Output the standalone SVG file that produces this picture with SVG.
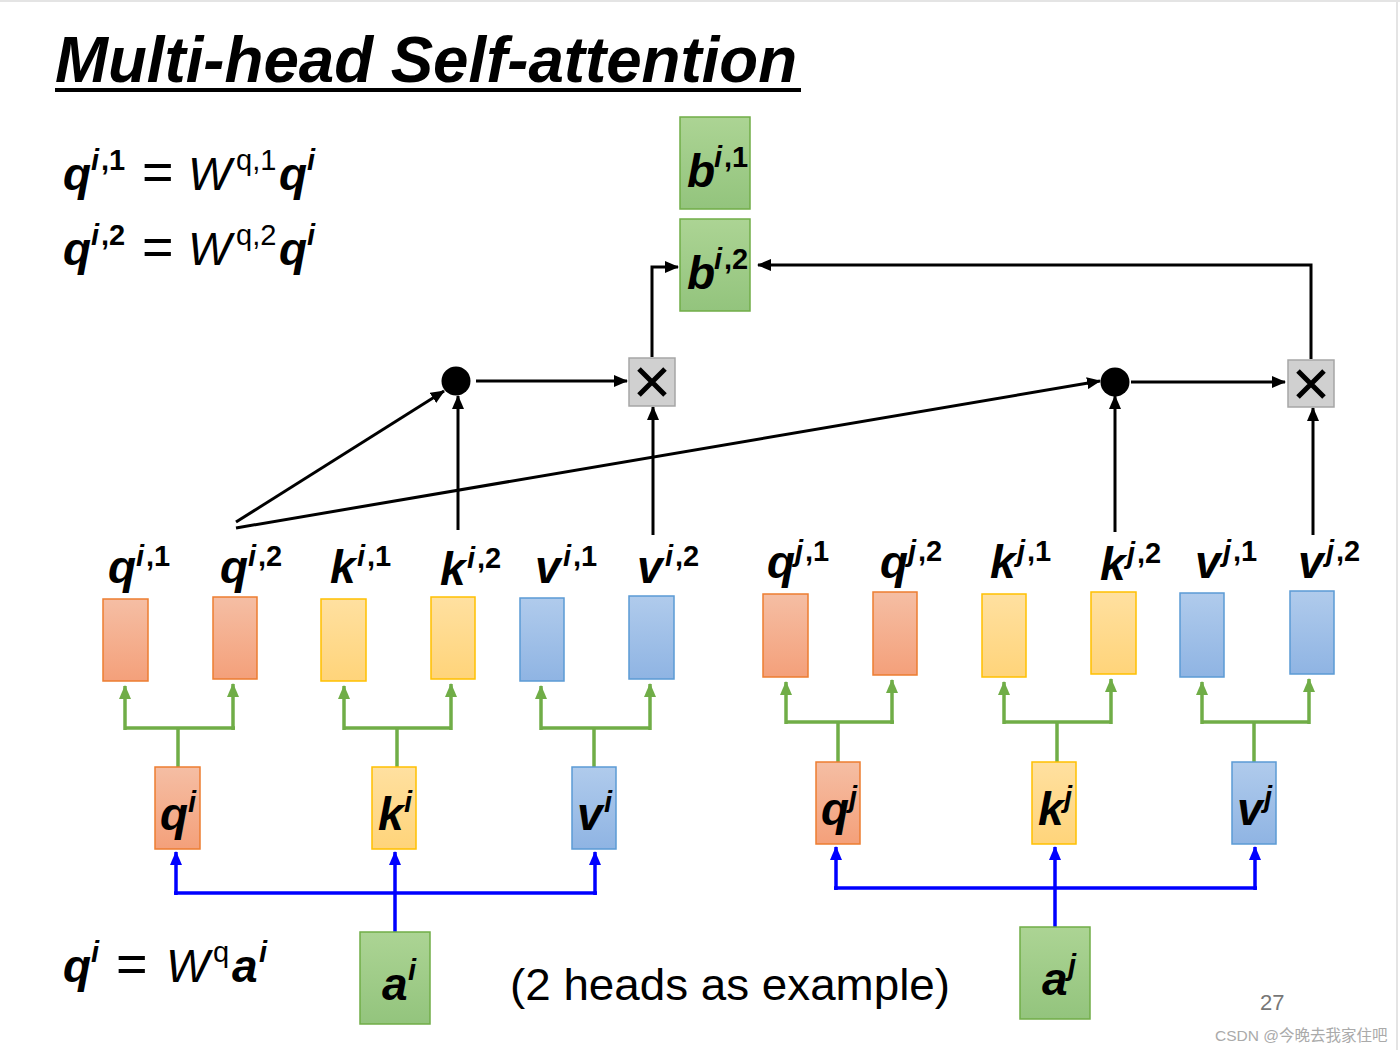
<svg xmlns="http://www.w3.org/2000/svg" width="1400" height="1050" viewBox="0 0 1400 1050">
<defs>
<style>
.m{font-family:"Liberation Sans",Arial,sans-serif;font-weight:bold;font-style:italic;font-size:46px;fill:#000}
.s{font-size:29px}
.u{font-style:normal}
.r{font-weight:normal;font-style:normal}
.eq{font-size:54px}
.w{font-weight:normal;font-style:italic}
.blk{stroke:#000;stroke-width:3;fill:none}
.blu{stroke:#0000ff;stroke-width:3.5;fill:none}
.grn{stroke:#70ad47;stroke-width:3.5;fill:none}
.qb{fill:url(#gO);stroke:#ed7d31;stroke-width:1.5}
.kb{fill:url(#gY);stroke:#ffc000;stroke-width:1.5}
.vb{fill:url(#gB);stroke:#5b9bd5;stroke-width:1.5}
.ab{fill:url(#gG);stroke:#70ad47;stroke-width:1.5}
.xb{fill:#d0d0d0;stroke:#a6a6a6;stroke-width:1.5}
</style>
<linearGradient id="gO" x1="0" y1="0" x2="0" y2="1"><stop offset="0" stop-color="#f5bea4"/><stop offset="1" stop-color="#f4a07a"/></linearGradient>
<linearGradient id="gY" x1="0" y1="0" x2="0" y2="1"><stop offset="0" stop-color="#ffe0a0"/><stop offset="1" stop-color="#ffd47a"/></linearGradient>
<linearGradient id="gB" x1="0" y1="0" x2="0" y2="1"><stop offset="0" stop-color="#b0cbec"/><stop offset="1" stop-color="#8fb4e3"/></linearGradient>
<linearGradient id="gG" x1="0" y1="0" x2="0" y2="1"><stop offset="0" stop-color="#acd494"/><stop offset="1" stop-color="#93c47d"/></linearGradient>
<marker id="aK" markerUnits="userSpaceOnUse" viewBox="0 0 14 12" refX="13" refY="6" markerWidth="14" markerHeight="12" orient="auto"><path d="M0,0 L14,6 L0,12 z" fill="#000"/></marker>
<marker id="aB" markerUnits="userSpaceOnUse" viewBox="0 0 14 12" refX="13" refY="6" markerWidth="14" markerHeight="12" orient="auto"><path d="M0,0 L14,6 L0,12 z" fill="#0000ff"/></marker>
<marker id="aG" markerUnits="userSpaceOnUse" viewBox="0 0 14 12" refX="13" refY="6" markerWidth="14" markerHeight="12" orient="auto"><path d="M0,0 L14,6 L0,12 z" fill="#70ad47"/></marker>
</defs>
<rect width="1400" height="1050" fill="#fff"/>
<line x1="0" y1="1" x2="1400" y2="1" stroke="#e4e4e4" stroke-width="2"/>
<line x1="1397" y1="0" x2="1397" y2="1050" stroke="#e4e4e4" stroke-width="2"/>

<g id="title">
<text x="55" y="82" font-family="Liberation Sans,Arial,sans-serif" font-weight="bold" font-style="italic" font-size="64" textLength="742" lengthAdjust="spacingAndGlyphs">Multi-head Self-attention</text>
<rect x="55" y="88" width="746" height="4" fill="#000"/>
</g>

<g id="equations">
<text class="m" y="190"><tspan x="63">q</tspan><tspan class="s" x="91" dy="-20">i</tspan><tspan class="s u" x="101">,1</tspan><tspan class="r eq" x="142" dy="20">=</tspan><tspan class="w" x="188">W</tspan><tspan class="s r" x="236" dy="-20">q,1</tspan><tspan x="279" dy="20">q</tspan><tspan class="s" x="307" dy="-20">i</tspan></text>
<text class="m" y="265"><tspan x="63">q</tspan><tspan class="s" x="91" dy="-20">i</tspan><tspan class="s u" x="101">,2</tspan><tspan class="r eq" x="142" dy="20">=</tspan><tspan class="w" x="188">W</tspan><tspan class="s r" x="236" dy="-20">q,2</tspan><tspan x="279" dy="20">q</tspan><tspan class="s" x="307" dy="-20">i</tspan></text>
<text class="m" y="982"><tspan x="63">q</tspan><tspan class="s" x="91" dy="-20">i</tspan><tspan class="r eq" x="116" dy="20">=</tspan><tspan class="w" x="166">W</tspan><tspan class="s r" x="213" dy="-20">q</tspan><tspan x="232" dy="20">a</tspan><tspan class="s" x="259" dy="-20">i</tspan></text>
</g>

<g id="connectors">
<path class="blk" d="M652,357 V267 H678" marker-end="url(#aK)"/>
<path class="blk" d="M1311,359 V265 H758" marker-end="url(#aK)"/>
<line class="blk" x1="476" y1="381" x2="627" y2="381" marker-end="url(#aK)"/>
<line class="blk" x1="1131" y1="382" x2="1285" y2="382" marker-end="url(#aK)"/>
<line class="blk" x1="236" y1="522" x2="444" y2="391" marker-end="url(#aK)"/>
<line class="blk" x1="236" y1="528" x2="1100" y2="381" marker-end="url(#aK)"/>
<line class="blk" x1="458" y1="530" x2="458" y2="396" marker-end="url(#aK)"/>
<line class="blk" x1="653" y1="535" x2="653" y2="407" marker-end="url(#aK)"/>
<line class="blk" x1="1115" y1="532" x2="1115" y2="396" marker-end="url(#aK)"/>
<line class="blk" x1="1313" y1="535" x2="1313" y2="408" marker-end="url(#aK)"/>
<path class="grn" d="M178,767 V728 M125,728 H235"/>
<line class="grn" x1="125" y1="730" x2="125" y2="686" marker-end="url(#aG)"/>
<line class="grn" x1="233" y1="730" x2="233" y2="684" marker-end="url(#aG)"/>
<path class="grn" d="M397,767 V728 M344,728 H452"/>
<line class="grn" x1="344" y1="730" x2="344" y2="686" marker-end="url(#aG)"/>
<line class="grn" x1="451" y1="730" x2="451" y2="684" marker-end="url(#aG)"/>
<path class="grn" d="M594,767 V728 M541,728 H651"/>
<line class="grn" x1="541" y1="730" x2="541" y2="686" marker-end="url(#aG)"/>
<line class="grn" x1="650" y1="730" x2="650" y2="684" marker-end="url(#aG)"/>
<path class="grn" d="M838,762 V722 M786,722 H894"/>
<line class="grn" x1="786" y1="724" x2="786" y2="682" marker-end="url(#aG)"/>
<line class="grn" x1="892" y1="724" x2="892" y2="680" marker-end="url(#aG)"/>
<path class="grn" d="M1057,762 V722 M1004,722 H1112"/>
<line class="grn" x1="1004" y1="724" x2="1004" y2="682" marker-end="url(#aG)"/>
<line class="grn" x1="1111" y1="724" x2="1111" y2="679" marker-end="url(#aG)"/>
<path class="grn" d="M1254,762 V722 M1202,722 H1310"/>
<line class="grn" x1="1202" y1="724" x2="1202" y2="682" marker-end="url(#aG)"/>
<line class="grn" x1="1309" y1="724" x2="1309" y2="679" marker-end="url(#aG)"/>
<path class="blu" d="M174,893 H597"/>
<line class="blu" x1="395" y1="932" x2="395" y2="852" marker-end="url(#aB)"/>
<line class="blu" x1="176" y1="895" x2="176" y2="852" marker-end="url(#aB)"/>
<line class="blu" x1="595" y1="895" x2="595" y2="852" marker-end="url(#aB)"/>
<path class="blu" d="M834,888 H1257"/>
<line class="blu" x1="1055" y1="927" x2="1055" y2="847" marker-end="url(#aB)"/>
<line class="blu" x1="836" y1="890" x2="836" y2="847" marker-end="url(#aB)"/>
<line class="blu" x1="1255" y1="890" x2="1255" y2="847" marker-end="url(#aB)"/>
</g>

<g id="dot1"><circle cx="456" cy="381" r="14.5" fill="#000"/></g>
<g id="dot2"><circle cx="1115" cy="382" r="14.5" fill="#000"/></g>
<g id="mul1"><rect class="xb" x="629" y="358" width="46" height="48"/><path d="M639,369 L665,395 M665,369 L639,395" stroke="#000" stroke-width="5"/></g>
<g id="mul2"><rect class="xb" x="1288" y="360" width="46" height="47"/><path d="M1298,371 L1324,397 M1324,371 L1298,397" stroke="#000" stroke-width="5"/></g>

<g id="b1"><rect class="ab" x="680" y="117" width="70" height="92"/><text class="m" y="187"><tspan x="687">b</tspan><tspan class="s" x="714" dy="-20">i</tspan><tspan class="s u" x="724">,1</tspan></text></g>
<g id="b2"><rect class="ab" x="680" y="219" width="70" height="92"/><text class="m" y="289"><tspan x="687">b</tspan><tspan class="s" x="714" dy="-20">i</tspan><tspan class="s u" x="724">,2</tspan></text></g>

<g id="qi1"><rect class="qb" x="103" y="599" width="45" height="82"/><text class="m" y="583"><tspan x="108">q</tspan><tspan class="s" x="136" dy="-17">i</tspan><tspan class="s u" x="146">,1</tspan></text></g>
<g id="qi2"><rect class="qb" x="213" y="597" width="44" height="82"/><text class="m" y="583"><tspan x="220">q</tspan><tspan class="s" x="248" dy="-17">i</tspan><tspan class="s u" x="258">,2</tspan></text></g>
<g id="ki1"><rect class="kb" x="321" y="599" width="45" height="82"/><text class="m" y="583"><tspan x="330">k</tspan><tspan class="s" x="357" dy="-17">i</tspan><tspan class="s u" x="367">,1</tspan></text></g>
<g id="ki2"><rect class="kb" x="431" y="597" width="44" height="82"/><text class="m" y="585"><tspan x="440">k</tspan><tspan class="s" x="467" dy="-17">i</tspan><tspan class="s u" x="477">,2</tspan></text></g>
<g id="vi1"><rect class="vb" x="520" y="598" width="44" height="83"/><text class="m" y="583"><tspan x="535">v</tspan><tspan class="s" x="563" dy="-17">i</tspan><tspan class="s u" x="573">,1</tspan></text></g>
<g id="vi2"><rect class="vb" x="629" y="596" width="45" height="83"/><text class="m" y="583"><tspan x="637">v</tspan><tspan class="s" x="665" dy="-17">i</tspan><tspan class="s u" x="675">,2</tspan></text></g>
<g id="qj1"><rect class="qb" x="763" y="594" width="45" height="83"/><text class="m" y="578"><tspan x="767">q</tspan><tspan class="s" x="795" dy="-17">j</tspan><tspan class="s u" x="805">,1</tspan></text></g>
<g id="qj2"><rect class="qb" x="873" y="592" width="44" height="83"/><text class="m" y="578"><tspan x="880">q</tspan><tspan class="s" x="908" dy="-17">j</tspan><tspan class="s u" x="918">,2</tspan></text></g>
<g id="kj1"><rect class="kb" x="982" y="594" width="44" height="83"/><text class="m" y="578"><tspan x="990">k</tspan><tspan class="s" x="1017" dy="-17">j</tspan><tspan class="s u" x="1027">,1</tspan></text></g>
<g id="kj2"><rect class="kb" x="1091" y="592" width="45" height="82"/><text class="m" y="580"><tspan x="1100">k</tspan><tspan class="s" x="1127" dy="-17">j</tspan><tspan class="s u" x="1137">,2</tspan></text></g>
<g id="vj1"><rect class="vb" x="1180" y="593" width="44" height="84"/><text class="m" y="578"><tspan x="1195">v</tspan><tspan class="s" x="1223" dy="-17">j</tspan><tspan class="s u" x="1233">,1</tspan></text></g>
<g id="vj2"><rect class="vb" x="1290" y="591" width="44" height="83"/><text class="m" y="578"><tspan x="1298">v</tspan><tspan class="s" x="1326" dy="-17">j</tspan><tspan class="s u" x="1336">,2</tspan></text></g>

<g id="qi"><rect class="qb" x="155" y="767" width="45" height="82"/><text class="m" y="830"><tspan x="160">q</tspan><tspan class="s" x="188" dy="-18">i</tspan></text></g>
<g id="ki"><rect class="kb" x="372" y="767" width="44" height="82"/><text class="m" y="830"><tspan x="378">k</tspan><tspan class="s" x="404" dy="-18">i</tspan></text></g>
<g id="vi"><rect class="vb" x="572" y="767" width="44" height="82"/><text class="m" y="830"><tspan x="577">v</tspan><tspan class="s" x="604" dy="-18">i</tspan></text></g>
<g id="qj"><rect class="qb" x="816" y="762" width="44" height="82"/><text class="m" y="825"><tspan x="821">q</tspan><tspan class="s" x="849" dy="-18">j</tspan></text></g>
<g id="kj"><rect class="kb" x="1032" y="762" width="44" height="82"/><text class="m" y="825"><tspan x="1038">k</tspan><tspan class="s" x="1064" dy="-18">j</tspan></text></g>
<g id="vj"><rect class="vb" x="1232" y="762" width="44" height="82"/><text class="m" y="825"><tspan x="1237">v</tspan><tspan class="s" x="1264" dy="-18">j</tspan></text></g>

<g id="ai"><rect class="ab" x="360" y="932" width="70" height="92"/><text class="m" y="1000"><tspan x="382">a</tspan><tspan class="s" x="408" dy="-20">i</tspan></text></g>
<g id="aj"><rect class="ab" x="1020" y="927" width="70" height="92"/><text class="m" y="995"><tspan x="1042">a</tspan><tspan class="s" x="1068" dy="-20">j</tspan></text></g>

<g id="notes">
<text x="510" y="1000" font-family="Liberation Sans,Arial,sans-serif" font-size="44" textLength="440" lengthAdjust="spacingAndGlyphs">(2 heads as example)</text>
<text x="1260" y="1010" font-family="Liberation Sans,Arial,sans-serif" font-size="22" fill="#777">27</text>
<text x="1215" y="1041" font-family="Liberation Sans,'Noto Sans CJK SC',sans-serif" font-size="15.5" fill="#aaa">CSDN @今晚去我家住吧</text>
</g>
</svg>
